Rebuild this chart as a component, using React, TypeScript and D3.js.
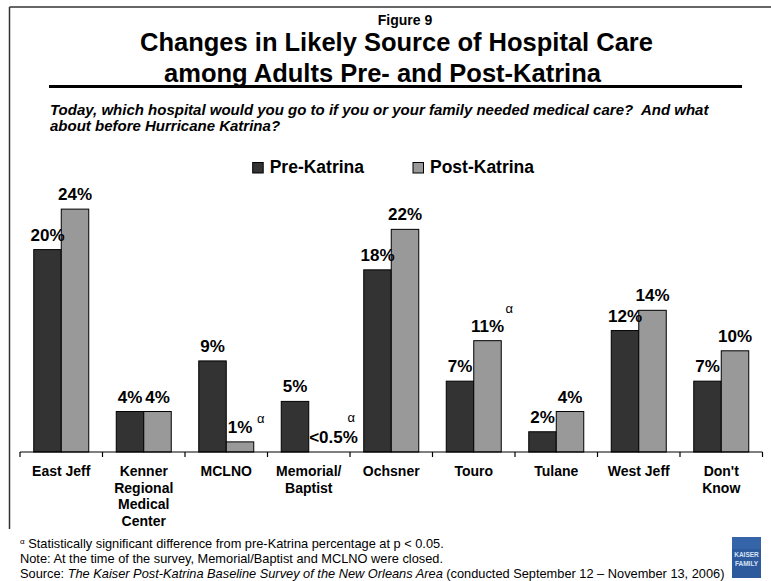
import React from 'react';
import * as d3 from 'd3';

const categoryLines: string[][] = [
  ['East Jeff'],
  ['Kenner', 'Regional', 'Medical', 'Center'],
  ['MCLNO'],
  ['Memorial/', 'Baptist'],
  ['Ochsner'],
  ['Touro'],
  ['Tulane'],
  ['West Jeff'],
  ["Don't", 'Know'],
];
const categories = categoryLines.map((l) => l.join(' '));
const preKatrina = [20, 4, 9, 5, 18, 7, 2, 12, 7];
const postKatrina = [24, 4, 1, 0, 22, 11, 4, 14, 10];
const preLabels = ['20%', '4%', '9%', '5%', '18%', '7%', '2%', '12%', '7%'];
const postLabels = ['24%', '4%', '1%', '<0.5%', '22%', '11%', '4%', '14%', '10%'];
const significant = ['MCLNO', 'Memorial/ Baptist', 'Touro'];
const seriesNames = ['Pre-Katrina', 'Post-Katrina'];

const FONT = '"Liberation Sans", Arial, Helvetica, sans-serif';
const COLORS = ['#333333', '#999999'];

// layout (px)
const X0 = 20;
const X1 = 762.5;
const BASE_Y = 452;
const TOP_Y = 199;

// alpha marker offsets relative to post bar center / top
const alphaOffset: Record<string, [number, number]> = {
  MCLNO: [17, -19],
  'Memorial/ Baptist': [25, -30],
  Touro: [18, -28],
};
const labelShift: Record<string, number> = { 'Memorial/ Baptist': 11 };

export default function App() {
  const x = d3.scaleBand<string>().domain(categories).range([X0, X1]).padding(0);
  const inner = d3
    .scaleBand<string>()
    .domain(seriesNames)
    .range([0, x.bandwidth()])
    .paddingInner(0)
    .paddingOuter(0.5);
  const y = d3.scaleLinear().domain([0, 25]).range([BASE_Y, TOP_Y]);
  const series = [preKatrina, postKatrina];
  const labels = [preLabels, postLabels];
  const ticks = [...categories.map((c) => x(c)!), X1];

  return (
    <svg
      width={771}
      height={581}
      style={{ position: 'absolute', left: 0, top: 0, background: '#fff' }}
      fontFamily={FONT}
    >
      <rect x={0} y={0} width={771} height={581} fill="#fff" />
      {/* frame */}
      <line x1={9.5} x2={771} y1={7} y2={7} stroke="#333" strokeWidth={1.5} />
      <line x1={9.5} x2={9.5} y1={7} y2={529} stroke="#333" strokeWidth={1.5} />

      {/* titles */}
      <text x={405} y={25} textAnchor="middle" fontWeight="bold" fontSize={14}>
        Figure 9
      </text>
      <text x={396.5} y={51} textAnchor="middle" fontWeight="bold" fontSize={25.5}>
        Changes in Likely Source of Hospital Care
      </text>
      <text x={382.5} y={82} textAnchor="middle" fontWeight="bold" fontSize={25.5}>
        among Adults Pre- and Post-Katrina
      </text>
      <line x1={49} x2={742} y1={86.5} y2={86.5} stroke="#000" strokeWidth={3} />

      <text x={50} y={114.5} fontWeight="bold" fontStyle="italic" fontSize={15}>
        <tspan x={50} xmlSpace="preserve">
          Today, which hospital would you go to if you or your family needed medical care?{'\u00a0 '}And what
        </tspan>
        <tspan x={50} dy={16}>
          about before Hurricane Katrina?
        </tspan>
      </text>

      {/* legend */}
      {seriesNames.map((s, i) => {
        const lx = [252.7, 413][i];
        return (
          <g key={s}>
            <rect x={lx} y={162.5} width={10.5} height={10.5} fill={COLORS[i]} stroke="#000" strokeWidth={1} />
            <text x={lx + 17} y={173} fontWeight="bold" fontSize={17.5}>
              {s}
            </text>
          </g>
        );
      })}

      {/* bars */}
      {categories.map((c, ci) => (
        <g key={c} transform={`translate(${x(c)},0)`}>
          {seriesNames.map((s, si) => {
            const v = series[si][ci];
            if (v <= 0) return null;
            return (
              <rect
                key={s}
                x={inner(s)}
                y={y(v)}
                width={inner.bandwidth()}
                height={BASE_Y - y(v)}
                fill={COLORS[si]}
                stroke="#000"
                strokeWidth={1}
              />
            );
          })}
        </g>
      ))}

      {/* axis */}
      <line x1={X0} x2={X1} y1={BASE_Y} y2={BASE_Y} stroke="#000" strokeWidth={1.2} />
      {ticks.map((t, i) => (
        <line key={i} x1={t} x2={t} y1={BASE_Y} y2={BASE_Y + 5} stroke="#000" strokeWidth={1.2} />
      ))}

      {/* value labels */}
      {categories.map((c, ci) =>
        seriesNames.map((s, si) => {
          const v = series[si][ci];
          const cx = x(c)! + inner(s)! + inner.bandwidth() / 2 + (si === 1 ? labelShift[c] || 0 : 0);
          return (
            <text
              key={c + s}
              x={cx}
              y={y(v) - 9}
              textAnchor="middle"
              fontWeight="bold"
              fontSize={17}
            >
              {labels[si][ci]}
            </text>
          );
        })
      )}

      {/* significance markers */}
      {significant.map((c) => {
        const ci = categories.indexOf(c);
        const v = postKatrina[ci];
        const cx = x(c)! + inner('Post-Katrina')! + inner.bandwidth() / 2;
        const [dx, dy] = alphaOffset[c];
        return (
          <text key={c} x={cx + dx} y={y(v) + dy} fontSize={13}>
            α
          </text>
        );
      })}

      {/* category labels */}
      {categories.map((c, ci) => (
        <text key={c} textAnchor="middle" fontWeight="bold" fontSize={14}>
          {categoryLines[ci].map((ln, li) => (
            <tspan key={li} x={x(c)! + x.bandwidth() / 2} y={476 + li * 16.5}>
              {ln}
            </tspan>
          ))}
        </text>
      ))}

      {/* footnotes */}
      <text x={20} y={548} fontSize={12.8}>
        <tspan fontSize={8} dy={-4}>α</tspan>
        <tspan dy={4}> Statistically significant difference from pre-Katrina percentage at p &lt; 0.05.</tspan>
      </text>
      <text x={20} y={563} fontSize={12.8}>
        Note: At the time of the survey, Memorial/Baptist and MCLNO were closed.
      </text>
      <text x={20} y={578} fontSize={12.8}>
        Source: <tspan fontStyle="italic">The Kaiser Post-Katrina Baseline Survey of the New Orleans Area</tspan> (conducted September 12 – November 13, 2006)
      </text>

      {/* logo */}
      <rect x={732} y={537} width={29} height={41} fill="#2d5a9c" />
      <rect x={732} y={537} width={29} height={12} fill="#3a6bb0" opacity={0.6} />
      <text x={746.5} y={557} textAnchor="middle" fontSize={6.5} fontWeight="bold" fill="#d6e2f4">
        KAISER
      </text>
      <text x={746.5} y={566} textAnchor="middle" fontSize={6.5} fontWeight="bold" fill="#d6e2f4">
        FAMILY
      </text>
    </svg>
  );
}
